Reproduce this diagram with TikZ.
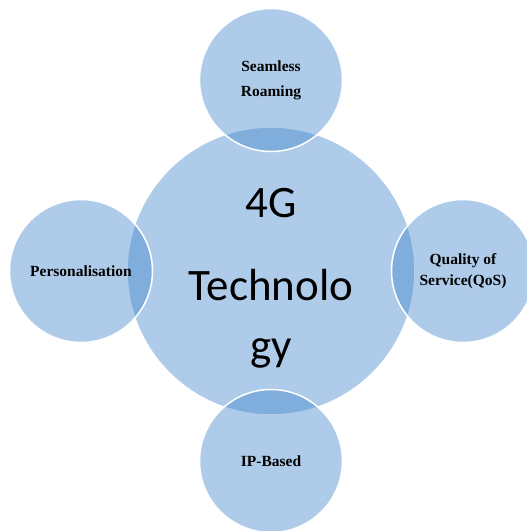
\documentclass[tikz,border=0pt]{standalone}
\usepackage{fontspec}
\setmainfont{Liberation Serif}
\newfontfamily\hubfont{Carlito}
\definecolor{bubbleblue}{RGB}{68,136,204}

\begin{document}
\begin{tikzpicture}[x=1pt,y=-1pt,
	bubble/.style={circle,draw=white,line width=1.5pt,fill=bubbleblue,fill opacity=0.43,text opacity=1,align=center,inner sep=0pt},
	hub/.style={bubble,minimum size=288pt,font=\hubfont\fontsize{45}{60}\selectfont},
	petal/.style={bubble,minimum size=143pt,font=\bfseries\fontsize{15.5}{23}\selectfont}]
\useasboundingbox (0,0) rectangle (527,531);

\node[hub] (tech) at (271,271) {\rule{0pt}{43pt}4G\\[23pt]Technolo\\gy};

\foreach \name/\x/\y/\txt in {roam/271/80/{Seamless\\[2pt]Roaming},
	pers/81/271/{Personalisation},
	qos/463/271/{Quality of\\[-2pt]Service(QoS)},
	ipb/271/461/{IP-Based}}
	{
	\node[petal] (\name) at (\x,\y) {\txt};
	}
\end{tikzpicture}
\end{document}
